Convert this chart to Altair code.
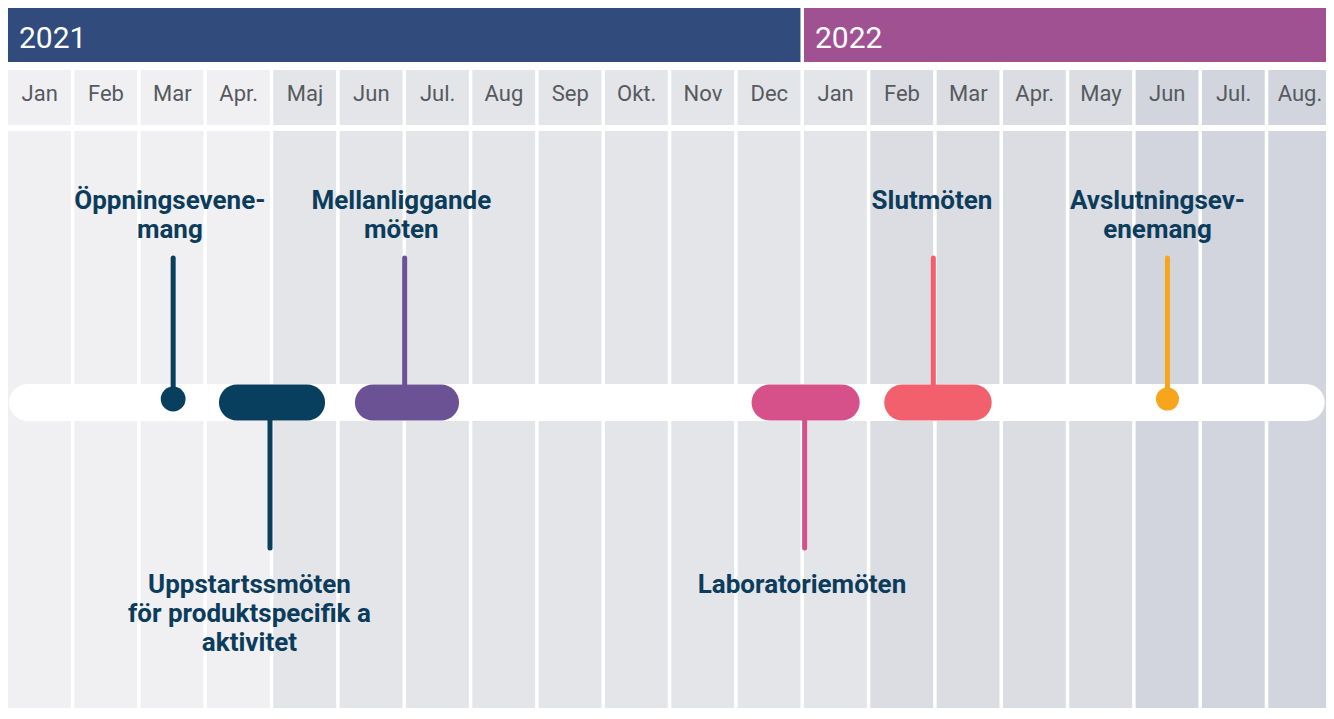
import altair as alt
import pandas as pd

# ---------------- data ----------------
months = ["Jan", "Feb", "Mar", "Apr.", "Maj", "Jun", "Jul.", "Aug", "Sep", "Okt.", "Nov", "Dec",
          "Jan", "Feb", "Mar", "Apr.", "May", "Jun", "Jul.", "Aug."]
month_shade = [0, 0, 0, 0, 1, 1, 1, 1, 1, 1, 1, 1, 1, 2, 2, 2, 2, 3, 3, 3]

years = ["2021", "2022"]
year_start = [0, 12]
year_end = [12, 20]

event_labels = ["Öppningsevene-\nmang",
                "Uppstartssmöten\nför produktspecifik a\naktivitet",
                "Mellanliggande\nmöten",
                "Laboratoriemöten",
                "Slutmöten",
                "Avslutningsev-\nenemang"]
event_kind = ["point", "span", "span", "span", "span", "point"]
event_start = [2.49, 3.18, 5.23, 11.21, 13.21, 17.48]   # months since Jan 2021
event_end = [2.49, 4.78, 6.80, 12.84, 14.83, 17.48]
event_anchor = [2.49, 3.95, 5.98, 12.01, 13.95, 17.48]
event_label_x = [2.44, 3.64, 5.93, 11.97, 13.93, 17.33]
event_side = ["above", "below", "above", "below", "above", "above"]

# ---------------- styles ----------------
shade_colors = ["#f0f0f3", "#e4e5e9", "#dcdde2", "#d2d5dd"]
year_colors = ["#314c7c", "#a05192"]
event_colors = ["#083f5e", "#083f5e", "#6a5294", "#d65189", "#f25f6d", "#f8a51e"]
point_diameter = [28, 0, 0, 0, 0, 26]
label_color = "#0c3c5b"
FONT = "Roboto"

W, H = 1318, 700
X_MAX = 19.87                      # visible span of months
PX_PER_MONTH = W / X_MAX

# layout levels (vertical, in px-like units from the top)
L = dict(year_top=0, year_bot=54, head_top=62, head_bot=117, body_top=123, body_bot=H,
         line_top=376, line_bot=413, line_mid=394, dot=391,
         stem_above=250, stem_below=540, lab_above=201, lab_below=585,
         month_base=93, year_base=40)

x_scale = alt.Scale(domain=[0, X_MAX], nice=False, zero=False)
y_scale = alt.Scale(domain=[0, H], reverse=True, nice=False, zero=False)


def X(f):
    return alt.X(f, type="quantitative", scale=x_scale, axis=None)


def Y(f):
    return alt.Y(f, type="quantitative", scale=y_scale, axis=None)


# ---------------- tables ----------------
cells = []
for i, m in enumerate(months):
    c = shade_colors[month_shade[i]]
    cells.append(dict(m0=i, m1=min(i + 1, X_MAX + 1), y0=L["head_top"], y1=L["head_bot"], color=c))
    cells.append(dict(m0=i, m1=min(i + 1, X_MAX + 1), y0=L["body_top"], y1=L["body_bot"], color=c))
cells = pd.DataFrame(cells)

month_df = pd.DataFrame(dict(mc=[i + 0.5 for i in range(len(months))], label=months,
                             yb=[L["month_base"]] * len(months)))

year_df = pd.DataFrame(dict(m0=year_start, m1=[min(e, X_MAX + 1) for e in year_end], label=years,
                            color=year_colors, y0=L["year_top"], y1=L["year_bot"], yb=L["year_base"]))

ev = pd.DataFrame(dict(label=event_labels, kind=event_kind, m0=event_start, m1=event_end,
                       anchor=event_anchor, lx=event_label_x, side=event_side, color=event_colors,
                       diam=point_diameter))
ev["stem_end"] = [L["stem_above"] if s == "above" else L["stem_below"] for s in ev["side"]]
ev["stem_start"] = L["line_mid"]
ev["lab_y"] = [L["lab_above"] if s == "above" else L["lab_below"] for s in ev["side"]]
ev["bar_y0"] = L["line_top"] + 0.5
ev["bar_y1"] = L["line_bot"] - 0.5
ev["dot_y"] = L["dot"]
ev["size"] = [3.14159 * (d / 2) ** 2 for d in ev["diam"]]

line_df = pd.DataFrame(dict(m0=[0.0], m1=[X_MAX - 0.02], y0=[L["line_top"]], y1=[L["line_bot"]]))

# ---------------- layers ----------------
year_bars = alt.Chart(year_df).mark_rect(x2Offset=-3.5, clip=True).encode(
    x=X("m0"), x2="m1", y=Y("y0"), y2="y1", color=alt.Color("color:N", scale=None))

year_text = alt.Chart(year_df).mark_text(align="left", baseline="alphabetic", dx=11,
                                         font=FONT, fontSize=30, color="white").encode(
    x=X("m0"), y=Y("yb"), text="label:N")

cell_rects = alt.Chart(cells).mark_rect(x2Offset=-3.5, clip=True).encode(
    x=X("m0"), x2="m1", y=Y("y0"), y2="y1", color=alt.Color("color:N", scale=None))

month_text = alt.Chart(month_df).mark_text(align="center", baseline="alphabetic", dx=-1.5,
                                           font=FONT, fontSize=22, color="#555a5f").encode(
    x=X("mc"), y=Y("yb"), text="label:N")

timeline = alt.Chart(line_df).mark_rect(color="white", cornerRadius=18.5, xOffset=1).encode(
    x=X("m0"), x2="m1", y=Y("y0"), y2="y1")

stems = alt.Chart(ev).mark_rule(strokeWidth=5, strokeCap="round").encode(
    x=X("anchor"), y=Y("stem_start"), y2="stem_end", color=alt.Color("color:N", scale=None))

spans = alt.Chart(ev).transform_filter(alt.datum.kind == "span").mark_rect(cornerRadius=18).encode(
    x=X("m0"), x2="m1", y=Y("bar_y0"), y2="bar_y1", color=alt.Color("color:N", scale=None))

dots = alt.Chart(ev).transform_filter(alt.datum.kind == "point").mark_circle(opacity=1).encode(
    x=X("anchor"), y=Y("dot_y"), color=alt.Color("color:N", scale=None),
    size=alt.Size("size:Q", scale=None))

labels = alt.Chart(ev).mark_text(align="center", baseline="alphabetic", lineBreak="\n",
                                 lineHeight=29, font=FONT, fontSize=26, fontWeight="bold",
                                 color=label_color).encode(
    x=X("lx"), y=Y("lab_y"), text="label:N")

chart = alt.layer(cell_rects, year_bars, year_text, month_text, timeline, stems, spans, dots, labels).properties(
    width=W, height=H, padding=0, autosize=alt.AutoSizeParams(type="none"), background="white"
).configure_view(stroke=None)

chart.save("out.html", embed_options={"renderer": "svg", "actions": False})
